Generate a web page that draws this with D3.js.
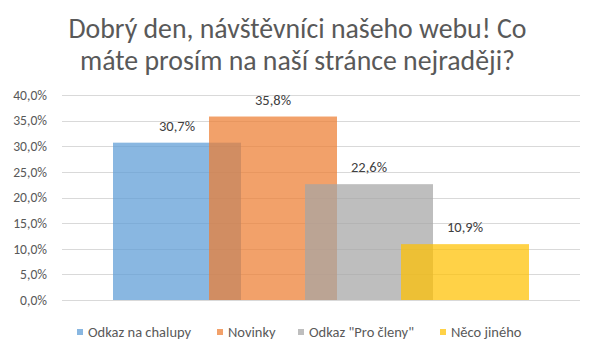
<!DOCTYPE html>
<html><head><meta charset="utf-8">
<script src="https://cdn.jsdelivr.net/npm/d3@7"></script>
<style>
body{margin:0;background:#fff;}
svg{display:block;font-family:Carlito,Calibri,Lato,sans-serif;}
</style></head>
<body><svg id="c" width="595" height="355"></svg>
<script>
const titleLines = ["Dobrý den, návštěvníci našeho webu! Co", "máte prosím na naší stránce nejraději?"];
const seriesNames = ["Odkaz na chalupy", "Novinky", "Odkaz \"Pro členy\"", "Něco jiného"];
const seriesValues = [0.307, 0.358, 0.226, 0.109];
const seriesColors = ["#5B9BD5", "#ED7D31", "#A5A5A5", "#FFC000"];
const yTicks = [0, 0.05, 0.10, 0.15, 0.20, 0.25, 0.30, 0.35, 0.40];

const svg = d3.select("#c");
const fmt = v => d3.format(".1f")(v*100).replace(".", ",") + "%";
const plot = {left: 62, right: 580, top: 95, bottom: 300};

const y = d3.scaleLinear().domain([0, 0.40]).range([plot.bottom, plot.top]);
const x = d3.scaleBand().domain(seriesNames).range([113, 113 + 96*4]).paddingInner(0).paddingOuter(0);
const barW = x.bandwidth() * 4/3;

// title
svg.append("g").selectAll("text").data(titleLines).join("text")
  .attr("x", 297.5).attr("y", (d,i) => 38 + i*32)
  .attr("text-anchor", "middle").attr("fill", "#595959")
  .style("font-size", "27.8px").style("font-weight", 300).text(d => d);

// grid
svg.append("g").selectAll("line").data(yTicks).join("line")
  .attr("x1", plot.left).attr("x2", plot.right)
  .attr("y1", d => Math.round(y(d)) + 0.5).attr("y2", d => Math.round(y(d)) + 0.5)
  .attr("stroke", "#D9D9D9").attr("stroke-width", 1);

// y axis labels
const yAxis = d3.axisLeft(y).tickValues(yTicks).tickFormat(fmt).tickSize(0).tickPadding(0);
const ya = svg.append("g").attr("transform", `translate(47,0)`).call(yAxis);
ya.select(".domain").remove();
ya.selectAll("text").attr("fill", "#595959").style("font-size", "13.6px").style("font-family", "Carlito,Calibri,Lato,sans-serif");

// bars
svg.append("g").selectAll("rect").data(seriesValues).join("rect")
  .attr("x", (d,i) => x(seriesNames[i]))
  .attr("y", d => y(d))
  .attr("width", barW)
  .attr("height", d => y(0) - y(d))
  .attr("fill", (d,i) => seriesColors[i])
  .attr("fill-opacity", 0.72);

// data labels
svg.append("g").selectAll("text").data(seriesValues).join("text")
  .attr("x", (d,i) => x(seriesNames[i]) + barW/2)
  .attr("y", d => y(d) - 12)
  .attr("text-anchor", "middle").attr("fill", "#404040")
  .style("font-size", "14.5px").text(d => fmt(d));

// legend
const legX = [77, 217, 298, 440];
const lg = svg.append("g").selectAll("g").data(seriesNames).join("g")
  .attr("transform", (d,i) => `translate(${legX[i]},332)`);
lg.append("rect").attr("x", 0).attr("y", -3).attr("width", 6).attr("height", 6)
  .attr("fill", (d,i) => seriesColors[i]).attr("fill-opacity", 0.72);
lg.append("text").attr("x", 11).attr("y", 5).attr("fill", "#595959")
  .style("font-size", "14.5px").text(d => d);
</script></body></html>
